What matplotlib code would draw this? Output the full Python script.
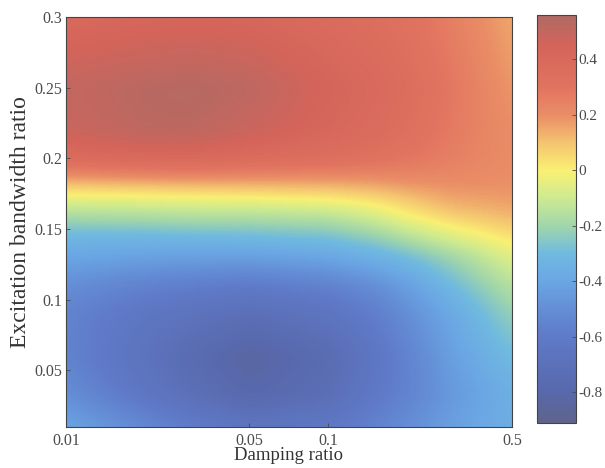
import numpy as np
import matplotlib
matplotlib.use("Agg")
import matplotlib.pyplot as plt
from matplotlib.colors import LinearSegmentedColormap, Normalize
from matplotlib.ticker import FixedLocator, FixedFormatter, NullLocator

plt.rcParams["font.family"] = ["Liberation Serif", "DejaVu Serif"]
plt.rcParams["axes.unicode_minus"] = False

# Sample grid: damping ratio (columns) x excitation bandwidth ratio (rows)
damping = [0.01, 0.02, 0.03, 0.05, 0.1, 0.15, 0.2, 0.3, 0.5]
bandwidth = [0.01, 0.035, 0.06, 0.09, 0.11, 0.13, 0.145, 0.155, 0.165,
             0.175, 0.185, 0.20, 0.22, 0.25, 0.30]

row_010 = [-0.40, -0.52, -0.58, -0.65, -0.62, -0.55, -0.50, -0.42, -0.36]
row_035 = [-0.50, -0.64, -0.72, -0.80, -0.73, -0.62, -0.55, -0.45, -0.35]
row_060 = [-0.55, -0.68, -0.76, -0.84, -0.76, -0.64, -0.55, -0.42, -0.30]
row_090 = [-0.55, -0.64, -0.68, -0.72, -0.66, -0.58, -0.50, -0.38, -0.22]
row_110 = [-0.50, -0.56, -0.58, -0.60, -0.56, -0.50, -0.43, -0.30, -0.15]
row_130 = [-0.40, -0.42, -0.43, -0.43, -0.40, -0.35, -0.30, -0.20, -0.06]
row_145 = [-0.32, -0.32, -0.31, -0.30, -0.28, -0.22, -0.15, -0.06, 0.03]
row_155 = [-0.22, -0.21, -0.20, -0.20, -0.18, -0.12, -0.05, 0.03, 0.10]
row_165 = [-0.12, -0.11, -0.10, -0.10, -0.08, -0.03, 0.04, 0.12, 0.15]
row_175 = [0.00, 0.01, 0.02, 0.03, 0.05, 0.08, 0.12, 0.17, 0.18]
row_185 = [0.15, 0.17, 0.18, 0.18, 0.18, 0.19, 0.21, 0.21, 0.20]
row_200 = [0.38, 0.40, 0.40, 0.38, 0.35, 0.32, 0.29, 0.25, 0.20]
row_220 = [0.48, 0.52, 0.52, 0.48, 0.42, 0.38, 0.34, 0.27, 0.20]
row_250 = [0.50, 0.53, 0.54, 0.52, 0.44, 0.40, 0.36, 0.28, 0.18]
row_300 = [0.40, 0.42, 0.43, 0.42, 0.38, 0.35, 0.32, 0.25, 0.15]

x_ticks = [0.01, 0.05, 0.1, 0.5]
x_tick_labels = ["0.01", "0.05", "0.1", "0.5"]
y_ticks = [0.05, 0.1, 0.15, 0.2, 0.25, 0.3]
y_tick_labels = ["0.05", "0.1", "0.15", "0.2", "0.25", "0.3"]
cbar_ticks = [-0.8, -0.6, -0.4, -0.2, 0, 0.2, 0.4]
cbar_tick_labels = ["-0.8", "-0.6", "-0.4", "-0.2", "0", "0.2", "0.4"]
vmin, vmax = -0.91, 0.56

Z = np.array([row_010, row_035, row_060, row_090, row_110, row_130, row_145,
              row_155, row_165, row_175, row_185, row_200, row_220, row_250,
              row_300])
lx = np.log10(damping)
by = np.array(bandwidth)

# Smooth resampling of the sample grid (linear in log-damping and bandwidth)
fx = np.linspace(lx[0], lx[-1], 300)
fy = np.linspace(by[0], by[-1], 300)
tmp = np.array([np.interp(fx, lx, r) for r in Z])
F = np.array([np.interp(fy, by, tmp[:, j]) for j in range(tmp.shape[1])]).T

def blur(a, s):
    k = np.exp(-0.5 * (np.arange(-3 * s, 3 * s + 1) / s) ** 2)
    k /= k.sum()
    p = np.pad(a, ((3 * s, 3 * s), (0, 0)), mode="edge")
    a = np.apply_along_axis(lambda c: np.convolve(c, k, mode="valid"), 0, p)
    p = np.pad(a, ((0, 0), (3 * s, 3 * s)), mode="edge")
    return np.apply_along_axis(lambda c: np.convolve(c, k, mode="valid"), 1, p)

F = blur(F, 5)

stops = [
    (-0.91, (95, 100, 140)),
    (-0.80, (88, 104, 172)),
    (-0.60, (95, 122, 200)),
    (-0.50, (100, 142, 214)),
    (-0.40, (106, 166, 228)),
    (-0.30, (112, 186, 224)),
    (-0.20, (160, 214, 172)),
    (-0.10, (205, 234, 145)),
    (0.00, (250, 240, 115)),
    (0.10, (244, 196, 112)),
    (0.20, (234, 142, 102)),
    (0.30, (225, 116, 96)),
    (0.45, (212, 100, 90)),
    (0.56, (176, 106, 100)),
]
cmap = LinearSegmentedColormap.from_list(
    "field",
    [((v - vmin) / (vmax - vmin), tuple(c / 255 for c in col)) for v, col in stops],
)
norm = Normalize(vmin=vmin, vmax=vmax)

fig = plt.figure(figsize=(6.05, 4.68), dpi=100)
ax = fig.add_axes([0.109, 0.0876, 0.737, 0.8761])
cax = fig.add_axes([0.8876, 0.0962, 0.0645, 0.8718])

mesh = ax.pcolormesh(10 ** fx, fy, F, cmap=cmap, norm=norm, shading="gouraud",
                     rasterized=True)
ax.set_xscale("log")
ax.set_xlim(0.01, 0.5)
ax.set_ylim(0.01, 0.3)

tick_color = "#4a4a4a"
ax.xaxis.set_major_locator(FixedLocator(x_ticks))
ax.xaxis.set_major_formatter(FixedFormatter(x_tick_labels))
ax.xaxis.set_minor_locator(NullLocator())
ax.yaxis.set_major_locator(FixedLocator(y_ticks))
ax.yaxis.set_major_formatter(FixedFormatter(y_tick_labels))
ax.tick_params(direction="in", length=3, width=0.6, colors=tick_color,
               labelsize=11.5)
ax.tick_params(axis="x", pad=4)
ax.tick_params(axis="y", pad=3)
for s in ax.spines.values():
    s.set_color("#444444")
    s.set_linewidth(0.8)

ax.set_xlabel("Damping ratio", fontsize=13.5, color="#333333", labelpad=-1)
ax.set_ylabel("Excitation bandwidth ratio", fontsize=17, color="#333333",
              labelpad=2)

cb = fig.colorbar(mesh, cax=cax)
cb.set_ticks(cbar_ticks)
cb.set_ticklabels(cbar_tick_labels)
cb.ax.tick_params(direction="in", length=3, width=0.6, colors=tick_color,
                  labelsize=11, pad=2)
cb.outline.set_edgecolor("#444444")
cb.outline.set_linewidth(0.8)

fig.savefig("out.png", dpi=100)
